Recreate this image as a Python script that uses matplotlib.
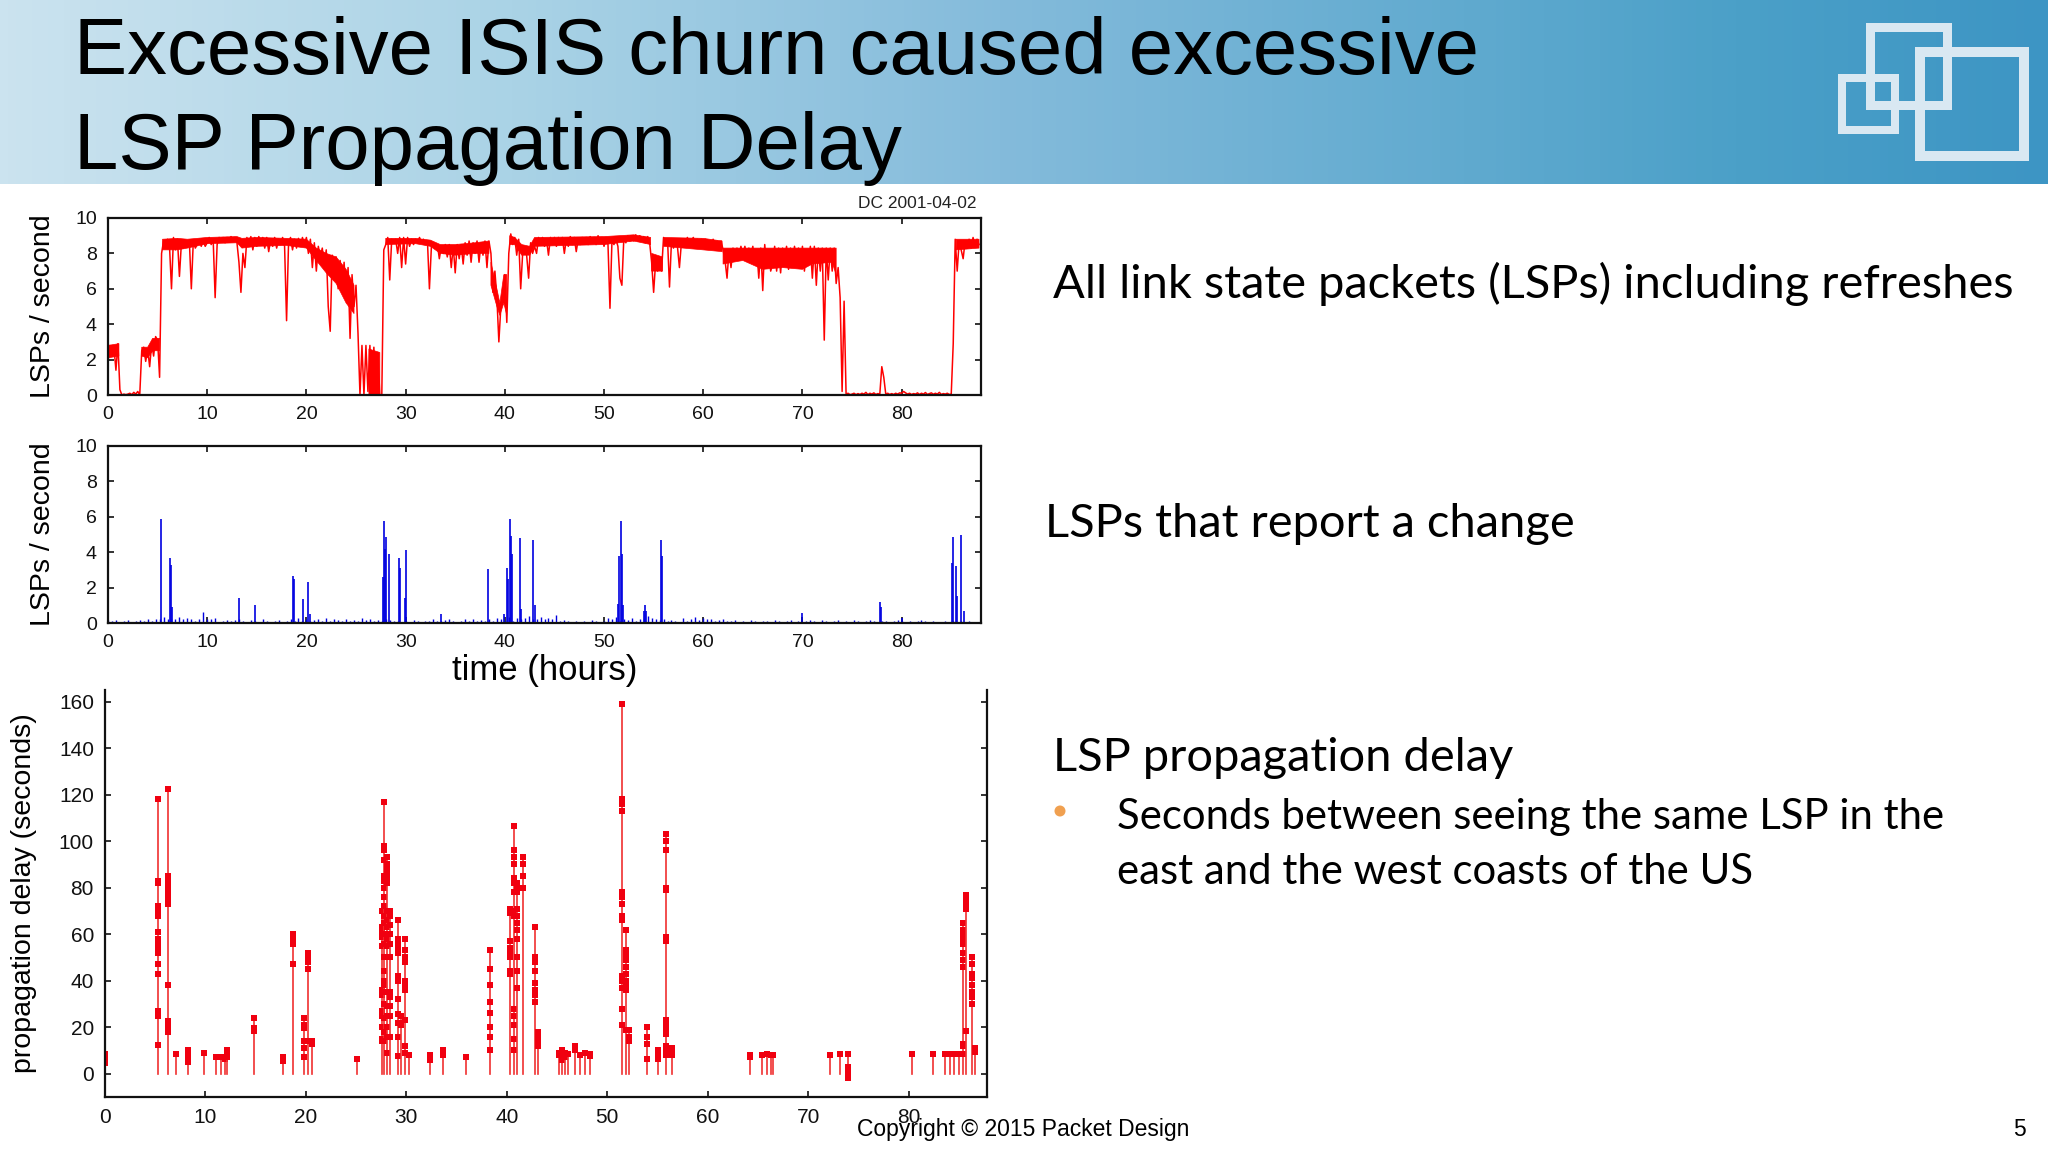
import numpy as np
import matplotlib
matplotlib.use('Agg')
import matplotlib.pyplot as plt
from matplotlib.colors import LinearSegmentedColormap
from matplotlib.patches import Rectangle, Circle

plt.rcParams['font.family'] = ['Liberation Sans', 'DejaVu Sans']

# all LSPs per second, one reading every 0.2 hours
all_lsps = [
    1.9, 2.8, 2.3, 2.7, 1.4, 2.9, 0.3, 0.0, 0.05, 0.02, 0.05, 0.1, 0.02, 0.15, 0.05,
    0.2, 0.0, 2.5, 2.7, 1.9, 2.6, 1.6, 2.9, 2.2, 3.3, 3.1, 1.0, 8.0, 8.7, 8.3,
    8.8, 8.4, 6.0, 8.9, 8.2, 8.8, 6.7, 8.6, 8.3, 8.6, 8.4, 8.7, 6.0, 8.7, 8.3,
    8.5, 8.8, 8.4, 8.7, 8.4, 8.6, 8.9, 8.5, 8.8, 5.5, 8.5, 8.9, 8.7, 8.9, 8.6,
    8.9, 8.7, 8.95, 8.7, 8.9, 8.6, 7.5, 5.8, 8.0, 7.2, 8.9, 8.5, 8.95, 8.2, 8.9,
    8.4, 8.95, 8.6, 8.9, 8.3, 8.9, 8.1, 8.8, 8.4, 8.9, 8.3, 8.8, 8.5, 8.9, 8.4,
    4.2, 8.6, 8.9, 8.2, 8.8, 8.3, 8.85, 8.4, 8.9, 8.5, 8.9, 8.0, 8.8, 7.2, 8.6,
    7.0, 8.4, 7.8, 8.3, 7.3, 8.2, 5.0, 3.6, 7.9, 6.5, 7.8, 6.0, 7.6, 6.2, 7.5,
    5.5, 7.2, 3.2, 6.8, 5.0, 6.2, 3.5, 0.0, 2.8, 0.0, 2.8, 0.2, 2.8, 0.0, 2.7,
    0.1, 2.4, 0.0, 0.0, 8.2, 8.5, 8.9, 6.5, 8.8, 8.6, 8.8, 8.0, 8.9, 7.2, 8.9,
    7.4, 8.9, 8.4, 8.8, 8.5, 8.8, 8.6, 8.9, 8.6, 8.8, 8.5, 8.7, 6.0, 8.4, 8.6,
    8.3, 8.5, 7.7, 8.4, 8.0, 8.5, 7.8, 8.5, 7.2, 8.4, 6.9, 8.5, 7.7, 8.5, 7.4,
    8.6, 7.9, 8.7, 7.5, 8.6, 8.0, 8.7, 7.5, 8.6, 7.9, 8.7, 7.2, 8.7, 8.0, 5.8,
    7.0, 5.5, 3.0, 5.0, 5.5, 6.8, 4.1, 8.0, 9.1, 8.5, 8.9, 7.9, 8.8, 6.0, 8.0,
    8.4, 7.9, 6.6, 8.6, 8.0, 8.4, 8.0, 8.9, 8.5, 8.9, 8.4, 8.8, 7.9, 8.9, 8.5,
    8.9, 8.4, 8.9, 8.6, 8.9, 8.0, 8.8, 8.4, 8.95, 8.5, 8.9, 8.1, 8.8, 8.5, 8.9,
    8.6, 8.9, 8.5, 8.95, 8.6, 8.9, 8.5, 9.0, 8.6, 8.9, 8.4, 8.9, 8.5, 4.9, 8.7,
    8.5, 8.8, 8.4, 6.6, 6.2, 8.9, 8.6, 9.0, 8.7, 9.0, 8.7, 9.05, 8.7, 9.0, 8.7,
    8.95, 8.6, 8.95, 8.6, 7.5, 5.8, 7.5, 7.0, 7.8, 7.0, 8.9, 8.5, 8.8, 6.1, 8.7,
    8.3, 8.8, 8.4, 7.2, 8.6, 8.8, 8.4, 8.9, 8.5, 8.7, 8.9, 8.4, 8.8, 8.3, 8.8,
    8.4, 8.8, 8.3, 8.7, 8.3, 8.8, 8.2, 8.7, 8.4, 8.7, 8.2, 7.6, 6.6, 8.2, 7.2,
    8.3, 7.6, 8.3, 7.8, 8.4, 7.9, 8.4, 7.7, 8.3, 7.9, 8.4, 7.4, 8.2, 6.6, 8.3,
    5.9, 8.5, 7.2, 8.2, 7.0, 7.4, 8.4, 7.0, 8.3, 6.9, 8.3, 7.7, 8.4, 7.1, 8.3,
    7.4, 8.4, 7.6, 8.3, 7.2, 8.4, 7.0, 8.2, 7.5, 8.4, 6.6, 8.4, 6.2, 8.3, 7.0,
    8.3, 3.1, 8.3, 6.5, 8.3, 7.0, 8.3, 6.3, 7.2, 5.5, 0.2, 5.3, 0.05, 0.1, 0.02,
    0.05, 0.1, 0.02, 0.08, 0.03, 0.1, 0.05, 0.15, 0.02, 0.1, 0.05, 0.12, 0.03, 0.08, 0.05,
    1.6, 1.0, 0.05, 0.1, 0.03, 0.08, 0.03, 0.1, 0.05, 0.12, 0.1, 0.2, 0.12, 0.05, 0.1,
    0.03, 0.08, 0.05, 0.12, 0.03, 0.1, 0.05, 0.14, 0.03, 0.08, 0.12, 0.04, 0.1, 0.05, 0.15,
    0.03, 0.08, 0.05, 0.1, 0.03, 0.05, 2.9, 8.8, 7.0, 8.7, 8.2, 7.7, 8.7, 8.3, 8.8,
    8.3, 8.9, 8.4, 8.8, 8.5,
]
all_hours = np.arange(len(all_lsps)) * 0.2

# the solid part of that trace, read as a band; nan separates the pieces
band_hours = [0.0, 1.1, np.nan, 3.4, 4.0, 4.5, 5.2, np.nan,
              5.5, 7.0, 8.0, 10.0, 13.0, 13.5, 15.0, 18.0, 20.0, 21.0, 22.0, 23.0, 24.0, 24.8, np.nan,
              26.3, 27.4, np.nan,
              28.0, 31.0, 32.5, 33.5, 35.0, 37.0, 38.4, np.nan,
              38.6, 39.2, 39.5, 39.9, 40.2, np.nan,
              40.5, 41.0, 41.7, 42.5, 43.0, 50.0, 53.0, 54.7, np.nan,
              54.8, 55.9, np.nan,
              56.0, 60.0, 61.9, np.nan,
              62.0, 64.0, 66.0, 68.0, 70.0, 71.0, 73.0, 73.4, np.nan,
              85.5, 87.8]
band_low = [2.1, 2.2, np.nan, 2.2, 2.1, 2.5, 2.5, np.nan,
            8.2, 8.2, 8.3, 8.55, 8.6, 8.3, 8.4, 8.45, 8.3, 7.6, 6.9, 6.3, 5.2, 4.6, np.nan,
            0.0, 0.0, np.nan,
            8.5, 8.55, 8.4, 8.0, 7.9, 8.0, 8.0, np.nan,
            6.2, 5.0, 4.5, 5.2, 4.5, np.nan,
            8.5, 8.5, 7.9, 7.9, 8.4, 8.5, 8.7, 8.5, np.nan,
            7.0, 7.0, np.nan,
            8.4, 8.2, 8.1, np.nan,
            7.4, 7.6, 7.1, 7.2, 7.1, 7.4, 7.5, 6.8, np.nan,
            8.2, 8.3]
band_high = [2.8, 2.9, np.nan, 2.7, 2.7, 3.2, 3.2, np.nan,
             8.8, 8.85, 8.8, 8.9, 8.95, 8.85, 8.9, 8.85, 8.8, 8.3, 8.0, 7.8, 7.1, 6.2, np.nan,
             2.6, 2.4, np.nan,
             8.85, 8.85, 8.75, 8.5, 8.5, 8.6, 8.7, np.nan,
             7.5, 6.0, 5.2, 6.8, 6.8, np.nan,
             9.0, 8.9, 8.5, 8.4, 8.9, 8.95, 9.05, 8.9, np.nan,
             8.0, 7.8, np.nan,
             8.9, 8.85, 8.7, np.nan,
             8.3, 8.3, 8.3, 8.3, 8.3, 8.3, 8.3, 8.3, np.nan,
             8.8, 8.8]

# LSPs that report a change: the tall spikes
change_hours = [5.3, 6.3, 6.4, 6.5, 13.2, 14.8, 18.6, 18.7, 19.7, 20.2, 20.4, 27.7, 27.8, 27.9, 28.0,
                28.3, 29.3, 29.4, 29.9, 30.0, 33.6, 38.3, 39.9, 40.2, 40.3, 40.5, 40.6, 40.7, 41.5,
                41.6, 42.8, 43.0, 51.4, 51.5, 51.7, 51.8, 51.9, 54.0, 54.1, 54.2, 55.7, 55.8, 70.0,
                77.8, 77.9, 80.0, 85.1, 85.2, 85.5, 85.6, 86.0, 86.3]
change_values = [5.9, 3.7, 3.3, 0.9, 1.4, 1.0, 2.65, 2.5, 1.35, 2.3, 0.5, 2.6, 5.75, 4.2, 4.85,
                 3.9, 3.65, 3.1, 1.4, 4.15, 0.5, 3.05, 0.5, 3.1, 2.5, 5.9, 4.9, 3.9, 4.8,
                 0.8, 4.7, 1.0, 1.1, 3.8, 5.75, 3.9, 1.0, 0.7, 1.0, 0.7, 4.7, 3.8, 0.55,
                 1.2, 0.9, 0.3, 3.4, 4.85, 3.2, 1.5, 5.0, 0.7]

# low background of the same series, one reading every 0.4 hours
change_low = [
    0.15, 0.1, 0.15, 0.05, 0.1, 0.15, 0.05, 0.1, 0.15, 0.1, 0.2, 0.1, 0.2, 0.25, 0.35, 0.2, 0.25, 0.2, 0.35, 0.2,
    0.3, 0.2, 0.1, 0.2, 0.6, 0.2, 0.25, 0.3, 0.05, 0.1, 0.15, 0.1, 0.15, 0.2, 0.1, 0.05, 0.15, 0.1, 0.05, 0.2,
    0.1, 0.05, 0.1, 0.15, 0.05, 0.1, 0.25, 0.1, 0.3, 0.1, 0.2, 0.1, 0.15, 0.2, 0.1, 0.3, 0.1, 0.25, 0.15, 0.1,
    0.2, 0.1, 0.15, 0.1, 0.3, 0.15, 0.2, 0.1, 0.15, 0.1, 0.2, 0.15, 0.1, 0.1, 0.05, 0.1, 0.05, 0.15, 0.1, 0.05,
    0.1, 0.1, 0.2, 0.1, 0.1, 0.15, 0.2, 0.1, 0.05, 0.1, 0.25, 0.1, 0.2, 0.1, 0.15, 0.1, 0.25, 0.1, 0.3, 0.2,
    0.1, 0.35, 0.1, 0.3, 0.25, 0.3, 0.4, 0.25, 0.2, 0.35, 0.2, 0.3, 0.2, 0.45, 0.1, 0.15, 0.1, 0.05, 0.1, 0.05,
    0.1, 0.05, 0.15, 0.1, 0.05, 0.1, 0.3, 0.2, 0.35, 0.1, 0.25, 0.15, 0.3, 0.1, 0.2, 0.25, 0.4, 0.3, 0.2, 0.15,
    0.2, 0.1, 0.15, 0.1, 0.05, 0.3, 0.1, 0.2, 0.35, 0.15, 0.3, 0.2, 0.25, 0.1, 0.15, 0.2, 0.1, 0.1, 0.15, 0.05,
    0.1, 0.05, 0.15, 0.1, 0.05, 0.1, 0.1, 0.05, 0.15, 0.1, 0.05, 0.1, 0.15, 0.05, 0.1, 0.05, 0.1, 0.15, 0.1, 0.05,
    0.15, 0.1, 0.05, 0.1, 0.15, 0.05, 0.1, 0.05, 0.15, 0.1, 0.05, 0.1, 0.15, 0.1, 0.05, 0.1, 0.1, 0.05, 0.1, 0.15,
    0.1, 0.05, 0.1, 0.05, 0.1, 0.15, 0.1, 0.05, 0.1, 0.05, 0.05, 0.1, 0.05, 0.1, 0.05, 0.1, 0.05, 0.1, 0.05, 0.05,
]
change_low_hours = np.arange(len(change_low)) * 0.4

# propagation delay: hour of each stem and the delays seen there
delay_hours = [0.0, 5.3, 6.3, 7.1, 8.3, 9.9, 11.0, 11.5, 11.9, 12.1, 14.8, 17.7, 18.7, 19.8, 20.2, 20.6, 25.1,
               27.6, 27.8, 28.1, 28.4, 29.2, 29.5, 29.9, 30.3, 32.4, 33.6, 35.9, 38.3,
               40.3, 40.7, 41.0, 41.6, 42.8, 43.1, 45.2, 45.5, 45.8, 46.1, 46.8, 47.3, 47.8, 48.3,
               51.5, 51.9, 52.2, 54.0, 55.0, 55.8, 56.4, 64.2, 65.4, 65.9, 66.3, 66.5,
               72.2, 73.2, 74.0, 80.3, 82.4, 83.6, 84.1, 84.5, 85.0, 85.4, 85.7, 86.3, 86.6]
delay_values = [
    [4.5, 5.5, 6.5, 7.5, 8.5],
    [118, 83, 82, 72, 71, 70, 68, 61, 58, 56, 53, 52, 47, 43, 27, 26, 25, 12.5],
    [122.5, 85, 83, 81, 79, 77, 75, 73, 38, 22.5, 20, 18],
    [8.5],
    [10, 9, 8, 7, 6, 5],
    [9],
    [7],
    [7],
    [6.5],
    [10, 8, 7],
    [24, 19.5, 18.5],
    [7, 6, 5.5],
    [60, 58, 57, 56, 47],
    [24, 21, 19.5, 14, 11, 7],
    [52, 50, 48, 45, 14],
    [14, 13],
    [6.5],
    [70, 63, 61, 59, 55, 36, 34, 27, 25, 20, 15, 14],
    [117, 98, 96, 92, 85, 83, 80, 76, 72, 68, 65, 60, 56, 50, 44, 40, 38, 35, 30, 24, 18, 14],
    [93, 90, 88, 86, 84, 82, 70, 66, 63, 60, 58, 55, 50, 35, 29, 25, 20, 16, 9],
    [70, 68, 64, 60, 56, 50, 35, 33, 29, 25, 16],
    [66, 58, 56, 54, 52, 42, 40, 32, 25.5, 22, 16, 7.5],
    [25, 22, 21],
    [58, 53, 50, 48, 40, 38, 36, 23, 12, 9],
    [8],
    [8, 7, 6],
    [10, 9, 8],
    [7],
    [53, 45, 38, 31, 26, 20, 16, 10],
    [71, 70, 69, 57, 54, 52, 50, 44, 43],
    [106.5, 96, 93, 90, 84, 82, 78, 70, 68, 28, 25, 21, 15, 10],
    [82, 80, 78, 71, 68, 65, 62, 58, 50, 44, 37],
    [93, 90, 85, 80],
    [63, 50, 48, 44, 39, 36, 34, 31],
    [18, 16, 14, 12],
    [9, 8],
    [10, 8, 6],
    [9, 7],
    [8.5],
    [12, 10],
    [8],
    [9],
    [8.5, 7.5],
    [159, 118, 116, 113, 78, 76, 73, 68, 66, 42, 40, 37, 28, 21],
    [62, 53, 51, 49, 46, 43, 40, 38, 36, 19],
    [19, 16, 14],
    [20, 16, 13, 6.5],
    [10, 9, 7, 6.5],
    [103, 100, 96, 80, 79, 59, 57, 23, 21, 19, 17, 12, 11, 10, 9, 8],
    [11, 10, 9, 8],
    [8, 7],
    [8],
    [8.5],
    [8],
    [8],
    [8],
    [8.5],
    [8.5, 3, 2, 1, -1, -2],
    [8.5],
    [8.5],
    [8.5],
    [8.5],
    [8.5],
    [8.5],
    [65, 62, 60, 58, 56, 52, 49, 46, 13, 12, 8.5],
    [77, 75, 73, 71, 18.5],
    [50, 47, 43, 41, 38, 35, 33, 30],
    [11, 9.5],
]

hour_ticks = list(range(0, 90, 10))
rate_ticks = [0, 2, 4, 6, 8, 10]
delay_ticks = list(range(0, 180, 20))

title_lines = ['Excessive ISIS churn caused excessive', 'LSP Propagation Delay']

W, H = 2048, 1152
fig = plt.figure(figsize=(W / 100, H / 100), dpi=100, facecolor='white')


def add_axes_px(left, top, right, bottom, **kw):
    return fig.add_axes([left / W, 1 - bottom / H, (right - left) / W, (bottom - top) / H], **kw)


# slide background, everything placed in pixels
bg = fig.add_axes([0, 0, 1, 1])

header = LinearSegmentedColormap.from_list('header', [(0, '#cbe3ef'), (0.25, '#aad3e6'), (0.49, '#84bbdb'),
                                                      (0.85, '#4ba0c8'), (1, '#3d95c4')])
bg.imshow(np.linspace(0, 1, 512).reshape(1, -1), cmap=header, extent=[0, W, 184, 0], aspect='auto')
bg.set_xlim(0, W)
bg.set_ylim(H, 0)
bg.axis('off')

for x0, y0, x1, y1, t in [(1915, 47, 2029, 161, 10), (1865, 22, 1951, 109, 9), (1838, 74, 1899, 134, 8)]:
    bg.add_patch(Rectangle((x0 + t / 2, y0 + t / 2), x1 - x0 - t, y1 - y0 - t, fill=False, ec='#d9e8f2', lw=t * 0.72))

bg.text(74, 74, title_lines[0], fontsize=57.4, color='black', va='baseline')
bg.text(74, 169, title_lines[1], fontsize=57.4, color='black', va='baseline')

bg.text(1053, 298, 'All link state packets (LSPs) including refreshes', family=['Lato'], fontsize=33.8, va='baseline')
bg.text(1045, 537, 'LSPs that report a change', family=['Lato'], fontsize=33.8, va='baseline')
bg.text(1053, 771, 'LSP propagation delay', family=['Lato'], fontsize=33.8, va='baseline')
bg.add_patch(Circle((1060, 811), 5.5, fc='#f0a050', ec='none'))
bg.text(1117, 829, 'Seconds between seeing the same LSP in the', family=['Lato'], fontsize=30.2, va='baseline')
bg.text(1117, 884, 'east and the west coasts of the US', family=['Lato'], fontsize=30.2, va='baseline')

bg.text(857, 1136, 'Copyright © 2015 Packet Design', fontsize=16.5, va='baseline', zorder=10)
bg.text(2026, 1136, '5', fontsize=16.5, va='baseline', ha='right')


def style_axes(ax, xlim, ylim, xticks, yticks, size):
    ax.set_xlim(*xlim)
    ax.set_ylim(*ylim)
    ax.set_xticks(xticks)
    ax.set_yticks(yticks)
    ax.tick_params(direction='in', length=4.5, width=1.2, top=True, right=True, labelsize=size,
                   pad=8, color='#111111', labelcolor='#111111')
    ax.patch.set_alpha(0)
    for s in ax.spines.values():
        s.set_linewidth(1.6)
        s.set_color('#111111')


ax1 = add_axes_px(108, 218, 981, 395)
ax1.plot(all_hours, all_lsps, color='#ff0000', lw=1.1)
ax1.fill_between(band_hours, band_low, band_high, color='#ff0000', lw=0.5)
style_axes(ax1, (0, 88), (0, 10), hour_ticks, rate_ticks, 14)
ax1.set_ylabel('LSPs / second', fontsize=20.5, labelpad=14)

ax2 = add_axes_px(108, 446, 981, 623)
ax2.vlines(change_low_hours, 0, change_low, color='#0000e0', lw=1.0)
ax2.vlines(change_hours, 0, change_values, color='#0000e0', lw=1.2)
ax2.axhline(0, color='#0000e0', lw=2.0)
style_axes(ax2, (0, 88), (0, 10), hour_ticks, rate_ticks, 14)
ax2.set_ylabel('LSPs / second', fontsize=20.5, labelpad=14)
ax2.set_xlabel('time (hours)', fontsize=25, labelpad=2)

ax3 = add_axes_px(105, 690, 987, 1097)
for hour, values in zip(delay_hours, delay_values):
    ax3.plot([hour, hour], [0, max(values)], color='#f03030', lw=1.2)
    ax3.plot([hour] * len(values), values, 's', color='#f00010', ms=4.2, mew=0)
style_axes(ax3, (0, 87.8), (-10, 165), hour_ticks, delay_ticks, 15)
ax3.spines['top'].set_visible(False)
ax3.tick_params(top=False)
ax3.set_ylabel('propagation delay (seconds)', fontsize=20.5, labelpad=16)

bg.text(977, 204, 'DC 2001-04-02', fontsize=12.5, ha='right', va='center', color='#222222')

fig.savefig('out.png', dpi=100)
